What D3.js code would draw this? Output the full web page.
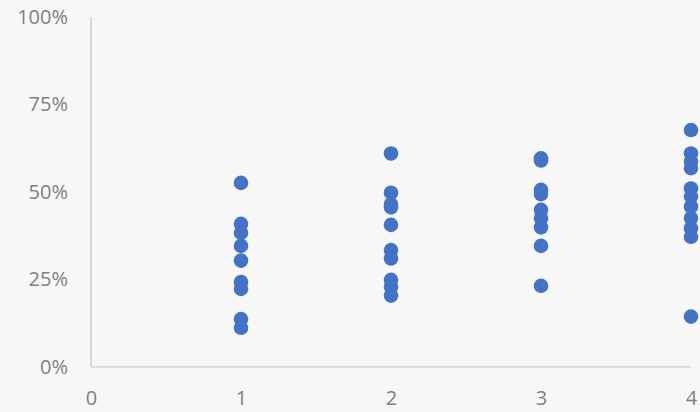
<!DOCTYPE html>
<html>
<head>
<meta charset="utf-8">
<script src="https://cdn.jsdelivr.net/npm/d3@7"></script>
<style>
  html, body { margin: 0; padding: 0; background: #f7f7f7; }
  svg { display: block; }
</style>
</head>
<body>
<div id="chart"></div>
<script>
// ── Data: share (%) per group ────────────────────────────────────────────────
const groups = [1, 2, 3, 4];
const values1 = [52.6, 40.9, 38.3, 34.6, 30.4, 24.3, 22.3, 13.7, 11.2];
const values2 = [61.0, 49.8, 46.5, 45.6, 40.6, 33.4, 31.0, 24.9, 22.9, 20.4];
const values3 = [59.6, 59.0, 50.6, 49.4, 44.9, 42.5, 39.9, 34.6, 23.2];
const values4 = [67.7, 61.0, 58.7, 56.8, 51.0, 48.7, 45.8, 42.5, 39.6, 37.2, 14.4];
const xTicks = [0, 1, 2, 3, 4];
const yTicks = [0, 25, 50, 75, 100];

const series = [values1, values2, values3, values4];
const points = [];
series.forEach(function (vals, i) {
  vals.forEach(function (v) { points.push({ x: groups[i], y: v }); });
});

// ── Layout ───────────────────────────────────────────────────────────────────
const W = 700, H = 412;
const margin = { top: 17, right: 9, bottom: 45, left: 91 };

const svg = d3.select("#chart").append("svg")
  .attr("width", W).attr("height", H);

svg.append("rect").attr("width", W).attr("height", H).attr("fill", "#f7f7f7");

const x = d3.scaleLinear().domain([0, 4]).range([margin.left, W - margin.right]);
const y = d3.scaleLinear().domain([0, 100]).range([H - margin.bottom, margin.top]);

const FONT = "'Open Sans', sans-serif";
const TEXT = "#808080";

// Axis lines
svg.append("line")
  .attr("x1", x(0)).attr("x2", x(0))
  .attr("y1", y(100)).attr("y2", y(0))
  .attr("stroke", "#c4c4c4").attr("stroke-width", 1.2);
svg.append("line")
  .attr("x1", x(0)).attr("x2", x(4))
  .attr("y1", y(0)).attr("y2", y(0))
  .attr("stroke", "#c4c4c4").attr("stroke-width", 1.2);

// Y tick labels
const yAxis = d3.axisLeft(y).tickValues(yTicks)
  .tickFormat(d => d + "%").tickSize(0).tickPadding(23);
const gy = svg.append("g").attr("transform", `translate(${x(0)},0)`).call(yAxis);
gy.select(".domain").remove();
gy.selectAll("text")
  .attr("font-family", FONT).attr("font-size", 20)
  .attr("fill", TEXT);

// X tick labels
const xAxis = d3.axisBottom(x).tickValues(xTicks)
  .tickFormat(d3.format("d")).tickSize(0).tickPadding(24);
const gx = svg.append("g").attr("transform", `translate(0,${y(0)})`).call(xAxis);
gx.select(".domain").remove();
gx.selectAll("text")
  .attr("font-family", FONT).attr("font-size", 20)
  .attr("fill", TEXT);

// Points
svg.append("g").selectAll("circle")
  .data(points)
  .join("circle")
  .attr("cx", d => x(d.x))
  .attr("cy", d => y(d.y))
  .attr("r", 7.3)
  .attr("fill", "#4472c4");
</script>
</body>
</html>
